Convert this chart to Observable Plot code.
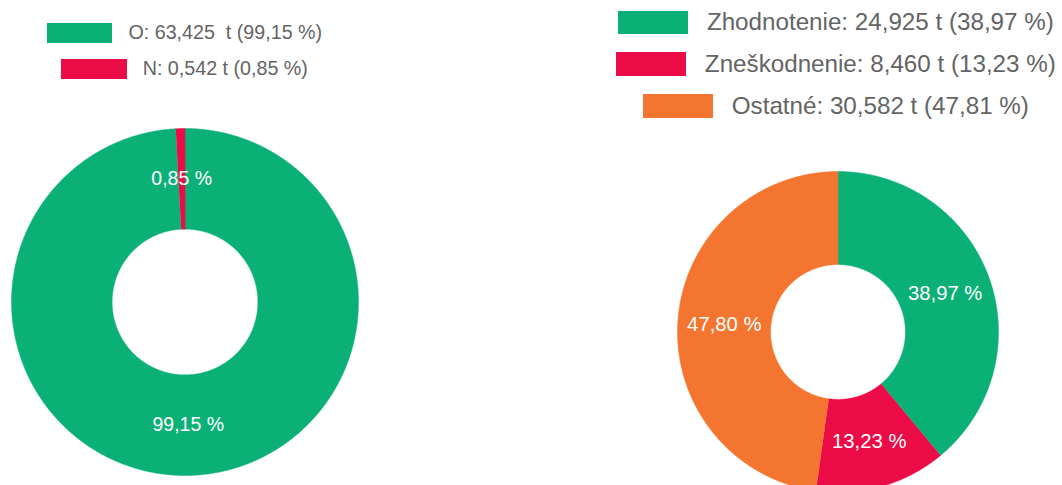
<!DOCTYPE html>
<html><head><meta charset="utf-8">
<script src="https://cdn.jsdelivr.net/npm/d3@7"></script>
<script src="https://cdn.jsdelivr.net/npm/@observablehq/plot@0.6"></script>
<style>
html,body{margin:0;padding:0;background:#fff;}
#root{position:relative;width:1062px;height:485px;overflow:hidden;font-family:"Liberation Sans",Arial,sans-serif;}
.row{position:absolute;display:flex;justify-content:center;align-items:center;}
.sw{flex:none;}
.lbl{white-space:pre;line-height:1;color:#646464;}
.donut{position:absolute;}
.donut svg{display:block;}
</style></head><body><div id="root"></div>
<script>
// ---- data: left chart ----
const leftNames = ["O", "N"];
const leftValues = [63.425, 0.542];
const leftColors = ["#0bb077", "#eb0c47"];
const leftSliceLabels = ["99,15 %", "0,85 %"];
const leftLegendLabels = ["O: 63,425  t (99,15 %)", "N: 0,542 t (0,85 %)"];

// ---- data: right chart ----
const rightNames = ["Zhodnotenie", "Zneškodnenie", "Ostatné"];
const rightValues = [24.925, 8.460, 30.582];
const rightColors = ["#0bb077", "#eb0c47", "#f37530"];
const rightSliceLabels = ["38,97 %", "13,23 %", "47,80 %"];
const rightLegendLabels = ["Zhodnotenie: 24,925 t (38,97 %)", "Zneškodnenie: 8,460 t (13,23 %)", "Ostatné: 30,582 t (47,81 %)"];

const root = document.getElementById("root");

function donut({names, values, colors, labels, size, inner, fontSize, left, top}) {
  const arcs = d3.pie().sort(null).value(d => d)(values);
  const ring = [], cents = [];
  arcs.forEach((p, i) => {
    const span = p.endAngle - p.startAngle;
    const n = Math.max(2, Math.ceil(span / (Math.PI / 720)));
    for (let k = 0; k <= n; k++) {
      const a = p.startAngle + span * k / n;
      ring.push({name: names[i], x: Math.sin(a), y: Math.cos(a)});
    }
    for (let k = n; k >= 0; k--) {
      const a = p.startAngle + span * k / n;
      ring.push({name: names[i], x: inner * Math.sin(a), y: inner * Math.cos(a)});
    }
    const m = (p.startAngle + p.endAngle) / 2, r = (1 + inner) / 2;
    cents.push({label: labels[i], x: r * Math.sin(m), y: r * Math.cos(m)});
  });
  const svg = Plot.plot({
    width: size, height: size, margin: 0,
    x: {domain: [-1, 1], axis: null},
    y: {domain: [-1, 1], axis: null},
    color: {domain: names, range: colors},
    style: {fontFamily: '"Liberation Sans", Arial, sans-serif', background: "transparent", overflow: "visible"},
    marks: [
      Plot.line(ring, {x: "x", y: "y", z: "name", fill: "name", stroke: "name", strokeWidth: 0.5}),
      Plot.text(cents, {x: "x", y: "y", text: "label", fill: "white", fontSize})
    ]
  });
  const div = document.createElement("div");
  div.className = "donut";
  div.style.left = left + "px";
  div.style.top = top + "px";
  div.appendChild(svg);
  root.appendChild(div);
}

function legend({labels, colors, tops, centerX, swW, swH, gap, fontSize}) {
  labels.forEach((t, i) => {
    const row = document.createElement("div");
    row.className = "row";
    row.style.left = (centerX - 300) + "px";
    row.style.width = "600px";
    row.style.top = tops[i] + "px";
    row.style.height = swH + "px";
    const sw = document.createElement("div");
    sw.className = "sw";
    sw.style.width = swW + "px";
    sw.style.height = swH + "px";
    sw.style.background = colors[i];
    sw.style.marginRight = gap + "px";
    const lb = document.createElement("div");
    lb.className = "lbl";
    lb.style.fontSize = fontSize + "px";
    lb.textContent = t;
    row.appendChild(sw); row.appendChild(lb);
    root.appendChild(row);
  });
}

donut({names: leftNames, values: leftValues, colors: leftColors, labels: leftSliceLabels,
  size: 347, inner: 0.42, fontSize: 19.5, left: 11, top: 128});
donut({names: rightNames, values: rightValues, colors: rightColors, labels: rightSliceLabels,
  size: 321, inner: 0.42, fontSize: 20.3, left: 676.5, top: 170.5});

legend({labels: leftLegendLabels, colors: leftColors, tops: [23.3, 59.3], centerX: 184.5,
  swW: 65.6, swH: 19.3, gap: 16, fontSize: 19.7});
legend({labels: rightLegendLabels, colors: rightColors, tops: [10.7, 52.3, 94.3], centerX: 836,
  swW: 70, swH: 23.6, gap: 18.7, fontSize: 24.2});
</script></body></html>
